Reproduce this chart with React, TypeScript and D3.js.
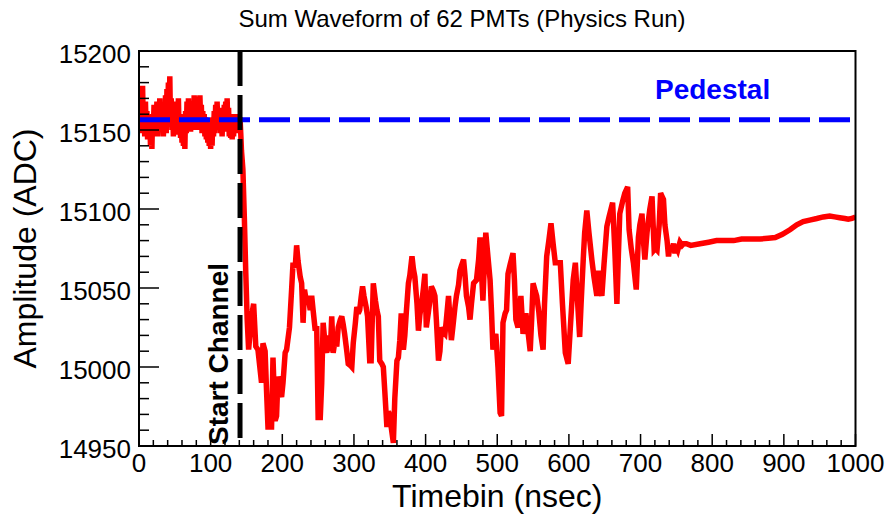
import React from 'react';
import * as d3 from 'd3';

const TITLE = 'Sum Waveform of 62 PMTs (Physics Run)';
const X_LABEL = 'Timebin (nsec)';
const Y_LABEL = 'Amplitude (ADC)';
const PEDESTAL_LABEL = 'Pedestal';
const START_LABEL = 'Start Channel';
const X_TICKS = [0, 100, 200, 300, 400, 500, 600, 700, 800, 900, 1000];
const Y_TICKS = [14950, 15000, 15050, 15100, 15150, 15200];
const PEDESTAL = 15156.5;
const START_CHANNEL = 141;

// Baseline samples, one per timebin from 0 to 142 ns
const PRE_START_AMPLITUDES = [
  15158, 15170, 15150, 15175, 15148, 15178, 15152, 15166, 15146, 15168, 15150, 15162, 15144, 15160, 15148, 15158, 15140, 15155, 15138, 15160,
  15150, 15166, 15147, 15160, 15152, 15168, 15146, 15164, 15150, 15170, 15149, 15163, 15152, 15166, 15146, 15158, 15150, 15172, 15148, 15176,
  15155, 15180, 15160, 15184, 15152, 15170, 15150, 15165, 15146, 15162, 15150, 15168, 15147, 15166, 15152, 15170, 15148, 15160, 15145, 15158,
  15142, 15155, 15140, 15160, 15138, 15162, 15148, 15168, 15150, 15170, 15152, 15166, 15149, 15164, 15151, 15168, 15150, 15172, 15153, 15170,
  15150, 15171, 15154, 15168, 15150, 15172, 15156, 15166, 15148, 15162, 15150, 15160, 15146, 15158, 15144, 15156, 15142, 15152, 15140, 15150,
  15138, 15154, 15140, 15158, 15146, 15162, 15148, 15166, 15150, 15168, 15152, 15164, 15150, 15162, 15148, 15160, 15146, 15164, 15150, 15166,
  15152, 15168, 15149, 15170, 15150, 15164, 15146, 15160, 15145, 15158, 15144, 15156, 15146, 15160, 15150, 15158, 15148, 15156, 15150, 15160,
  15152, 15158, 15148,
];

const POST_TIMEBINS = [
  143, 145, 147, 149, 151, 153, 157, 160, 163, 166, 171, 173, 176, 178, 180, 185, 187, 190, 192, 194,
  197, 199, 201, 204, 206, 210, 213, 215, 218, 220, 222, 225, 227, 229, 231, 234, 236, 239, 241, 243,
  246, 248, 250, 253, 255, 257, 260, 262, 265, 267, 269, 271, 274, 276, 278, 281, 283, 285, 287, 290,
  292, 295, 297, 299, 302, 304, 306, 308, 310, 312, 314, 317, 319, 322, 324, 327, 330, 332, 334, 336,
  339, 341, 343, 346, 348, 350, 352, 355, 357, 360, 362, 364, 366, 368, 369, 371, 373, 376, 378, 381,
  383, 385, 388, 390, 392, 395, 397, 399, 401, 404, 406, 408, 411, 413, 415, 418, 420, 422, 425, 427,
  429, 432, 434, 436, 438, 441, 443, 446, 448, 450, 453, 455, 457, 460, 462, 464, 467, 469, 471, 474,
  476, 478, 480, 482, 484, 487, 490, 492, 494, 496, 498, 501, 504, 506, 508, 511, 513, 515, 518, 522,
  524, 526, 529, 531, 533, 536, 538, 540, 543, 546, 548, 550, 553, 555, 558, 561, 564, 566, 569, 572,
  575, 578, 581, 584, 588, 591, 595, 599, 602, 604, 606, 609, 611, 615, 617, 620, 622, 625, 628, 632,
  635, 639, 641, 643, 646, 649, 653, 656, 661, 664, 667, 669, 671, 675, 678, 682, 684, 687, 690, 694,
  697, 699, 702, 704, 706, 709, 711, 713, 716, 719, 721, 723, 726, 728, 730, 732, 734, 737, 739, 741,
  743, 746, 748, 750, 752, 755, 758, 760, 764, 770, 783, 795, 806, 818, 830, 841, 855, 867, 878, 888,
  898, 909, 918, 927, 936, 946, 955, 964, 971, 978, 985, 990, 995, 1000,
];

const POST_AMPLITUDES = [
  15137, 15125, 15095, 15060, 15030, 15011, 15032, 15040, 15013, 15011, 14990, 15015, 15010, 14985, 14962, 14962, 15006, 14966, 14969, 14994,
  14985, 14981, 14990, 15009, 15011, 15025, 15049, 15066, 15063, 15077, 15067, 15057, 15053, 15028, 15049, 15040, 15045, 15036, 15045, 15036,
  15023, 15026, 14968, 14968, 14990, 15028, 15013, 15009, 15020, 15010, 15032, 15009, 15018, 15013, 15025, 15030, 15032, 15027, 15021, 15010,
  15002, 15001, 15000, 15015, 15028, 15038, 15034, 15036, 15044, 15051, 15045, 15038, 15032, 15004, 15004, 15053, 15042, 15036, 15032, 15004,
  15002, 15000, 14985, 14962, 14972, 14969, 14962, 14952, 14980, 15004, 15006, 15017, 15034, 15023, 15011, 15020, 15034, 15053, 15058, 15070,
  15062, 15057, 15040, 15023, 15033, 15042, 15050, 15059, 15025, 15035, 15042, 15051, 15048, 15045, 15030, 15004, 15010, 15025, 15022, 15021,
  15030, 15045, 15030, 15017, 15025, 15038, 15045, 15052, 15061, 15064, 15068, 15058, 15045, 15038, 15030, 15040, 15053, 15054, 15055, 15068,
  15082, 15060, 15042, 15065, 15085, 15070, 15055, 15035, 15011, 15018, 15021, 15000, 14971, 14969, 15028, 15034, 15036, 15059, 15065, 15072,
  15055, 15030, 15025, 15035, 15045, 15021, 15028, 15034, 15022, 15010, 15030, 15053, 15048, 15045, 15035, 15020, 15011, 15040, 15070, 15080,
  15091, 15078, 15066, 15066, 15066, 15040, 15009, 15002, 15025, 15040, 15055, 15066, 15050, 15019, 15040, 15068, 15085, 15099, 15085, 15068,
  15057, 15045, 15061, 15052, 15045, 15065, 15089, 15095, 15104, 15075, 15040, 15070, 15097, 15105, 15110, 15114, 15087, 15075, 15066, 15049,
  15082, 15090, 15097, 15080, 15068, 15085, 15093, 15100, 15108, 15074, 15075, 15074, 15090, 15110, 15108, 15106, 15090, 15080, 15070, 15076,
  15073, 15078, 15072, 15076, 15074, 15079, 15077, 15078, 15078, 15077, 15078, 15079, 15080, 15080, 15080, 15081, 15081, 15081, 15081.5, 15082,
  15084, 15087, 15090, 15092, 15093, 15094, 15095, 15095.5, 15095, 15094.5, 15094, 15093.5, 15094, 15095,
];

const FONT = 'Liberation Sans, Arial, Helvetica, sans-serif';

export default function App() {
  const W = 890;
  const H = 515;
  const L = 139, R = 855.5, T = 51, B = 446;
  const x = d3.scaleLinear().domain([0, 1000]).range([L, R]);
  const y = d3.scaleLinear().domain([14950, 15200]).range([B, T]);
  const data: [number, number][] = [
    ...PRE_START_AMPLITUDES.map((v, i) => [i, v] as [number, number]),
    ...POST_TIMEBINS.map((t, i) => [t, POST_AMPLITUDES[i]] as [number, number]),
  ];
  const line = d3.line<[number, number]>().x((d) => x(d[0])).y((d) => y(d[1]));
  const xMinor = d3.range(0, 1001, 20).filter((v) => v % 100 !== 0);
  const yMinor = d3.range(14950, 15201, 10).filter((v) => v % 50 !== 0);

  return (
    <svg width={W} height={H} style={{ position: 'absolute', left: 0, top: 0, background: '#fff' }} fontFamily={FONT}>
      <defs>
        <clipPath id="plotclip">
          <rect x={L} y={T} width={R - L} height={B - T} />
        </clipPath>
      </defs>
      <rect x={0} y={0} width={W} height={H} fill="#fff" />
      <text x={462} y={27} textAnchor="middle" fontSize={24} fill="#000">{TITLE}</text>

      <g clipPath="url(#plotclip)">
        <path d={line(data) || ''} fill="none" stroke="#ff0000" strokeWidth={5.5} strokeLinejoin="miter" strokeMiterlimit={3} />
        <line x1={L} x2={R} y1={y(PEDESTAL)} y2={y(PEDESTAL)} stroke="#0000ff" strokeWidth={5} strokeDasharray="31 9" />
        <line x1={x(START_CHANNEL)} x2={x(START_CHANNEL)} y1={T} y2={B} stroke="#000" strokeWidth={5} strokeDasharray="35 9" />
      </g>

      <text x={655} y={99} fontSize={28} fontWeight="bold" fill="#0000ff">{PEDESTAL_LABEL}</text>
      <text transform={`translate(228,445) rotate(-90)`} fontSize={28} fontWeight="bold" fill="#000">{START_LABEL}</text>

      <rect x={L} y={T} width={R - L} height={B - T} fill="none" stroke="#000" strokeWidth={2} />

      {Y_TICKS.map((v) => (
        <g key={'y' + v}>
          <line x1={L} x2={L + 20} y1={y(v)} y2={y(v)} stroke="#000" strokeWidth={1.5} />
          <text x={131} y={y(v) + 12} textAnchor="end" fontSize={26} fill="#000">{v}</text>
        </g>
      ))}
      {yMinor.map((v) => (
        <line key={'ym' + v} x1={L} x2={L + 10} y1={y(v)} y2={y(v)} stroke="#000" strokeWidth={1.5} />
      ))}

      {X_TICKS.map((v) => (
        <g key={'x' + v}>
          <line x1={x(v)} x2={x(v)} y1={B} y2={B - 12} stroke="#000" strokeWidth={1.5} />
          <text x={x(v)} y={472} textAnchor="middle" fontSize={26} fill="#000">{v}</text>
        </g>
      ))}
      {xMinor.map((v) => (
        <line key={'xm' + v} x1={x(v)} x2={x(v)} y1={B} y2={B - 6} stroke="#000" strokeWidth={1.5} />
      ))}

      <text x={(L + R) / 2} y={507} textAnchor="middle" fontSize={32} fill="#000">{X_LABEL}</text>
      <text transform={`translate(36,${(T + B) / 2}) rotate(-90)`} textAnchor="middle" fontSize={32} fill="#000">{Y_LABEL}</text>
    </svg>
  );
}
